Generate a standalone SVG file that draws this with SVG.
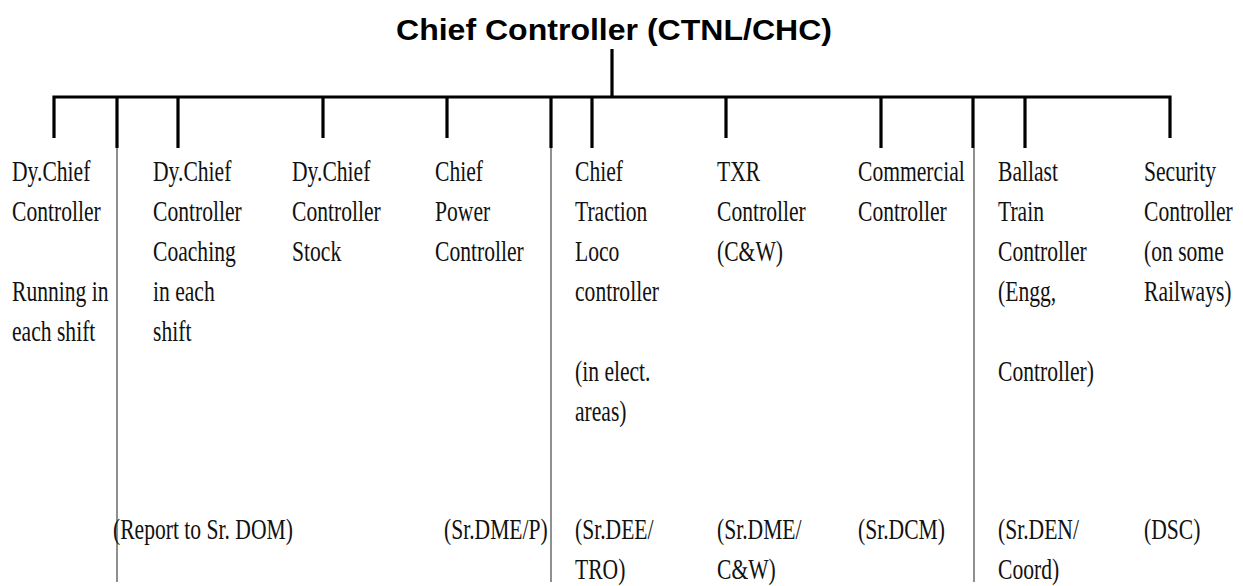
<svg xmlns="http://www.w3.org/2000/svg" width="1243" height="586" viewBox="0 0 1243 586">
<style>
.t{font-family:"Liberation Serif","Times New Roman",serif;font-size:30px;fill:#111}
.title{font-family:"Liberation Sans",Arial,sans-serif;font-weight:bold;font-size:29px;fill:#000}
.thick{stroke:#000;stroke-width:3.2;fill:none;stroke-linejoin:miter}
.thin{stroke:#555;stroke-width:1.3;fill:none}
</style>
<rect width="1243" height="586" fill="#fff"/>
<g id="connectors">
<path class="thick" d="M612 49V97 M54 138V97H1170V138"/>
<path class="thick" d="M117 97V148 M178 97V148 M323 97V138 M447 97V138 M551 97V148 M592 97V148 M726 97V138 M881 97V148 M973 97V148 M1025 97V148"/>
<path class="thin" d="M117 148V582 M551 148V582 M974 148V582"/>
</g>
<g id="chief-controller"><text class="title" x="614" y="40" text-anchor="middle" textLength="436" lengthAdjust="spacingAndGlyphs">Chief Controller (CTNL/CHC)</text></g>
<g id="dy-chief-running" transform="translate(12 181)"><text class="t" transform="scale(0.72 1)"><tspan x="0" y="0">Dy.Chief</tspan><tspan x="0" y="40">Controller</tspan><tspan x="0" y="120">Running in</tspan><tspan x="0" y="160">each shift</tspan></text></g>
<g id="dy-chief-coaching" transform="translate(153 181)"><text class="t" transform="scale(0.72 1)"><tspan x="0" y="0">Dy.Chief</tspan><tspan x="0" y="40">Controller</tspan><tspan x="0" y="80">Coaching</tspan><tspan x="0" y="120">in each</tspan><tspan x="0" y="160">shift</tspan></text></g>
<g id="dy-chief-stock" transform="translate(292 181)"><text class="t" transform="scale(0.72 1)"><tspan x="0" y="0">Dy.Chief</tspan><tspan x="0" y="40">Controller</tspan><tspan x="0" y="80">Stock</tspan></text></g>
<g id="report-sr-dom" transform="translate(113 539)"><text class="t" transform="scale(0.72 1)">(Report to Sr. DOM)</text></g>
<g id="chief-power" transform="translate(435 181)"><text class="t" transform="scale(0.72 1)"><tspan x="0" y="0">Chief</tspan><tspan x="0" y="40">Power</tspan><tspan x="0" y="80">Controller</tspan></text><text class="t" transform="translate(9 358) scale(0.72 1)">(Sr.DME/P)</text></g>
<g id="chief-traction" transform="translate(575 181)"><text class="t" transform="scale(0.72 1)"><tspan x="0" y="0">Chief</tspan><tspan x="0" y="40">Traction</tspan><tspan x="0" y="80">Loco</tspan><tspan x="0" y="120">controller</tspan><tspan x="0" y="200">(in elect.</tspan><tspan x="0" y="240">areas)</tspan><tspan x="0" y="358">(Sr.DEE/</tspan><tspan x="0" y="398">TRO)</tspan></text></g>
<g id="txr-controller" transform="translate(717 181)"><text class="t" transform="scale(0.72 1)"><tspan x="0" y="0">TXR</tspan><tspan x="0" y="40">Controller</tspan><tspan x="0" y="80">(C&amp;W)</tspan><tspan x="0" y="358">(Sr.DME/</tspan><tspan x="0" y="398">C&amp;W)</tspan></text></g>
<g id="commercial-controller" transform="translate(858 181)"><text class="t" transform="scale(0.72 1)"><tspan x="0" y="0">Commercial</tspan><tspan x="0" y="40">Controller</tspan><tspan x="0" y="358">(Sr.DCM)</tspan></text></g>
<g id="ballast-train" transform="translate(998 181)"><text class="t" transform="scale(0.72 1)"><tspan x="0" y="0">Ballast</tspan><tspan x="0" y="40">Train</tspan><tspan x="0" y="80">Controller</tspan><tspan x="0" y="120">(Engg,</tspan><tspan x="0" y="200">Controller)</tspan><tspan x="0" y="358">(Sr.DEN/</tspan><tspan x="0" y="398">Coord)</tspan></text></g>
<g id="security-controller" transform="translate(1144 181)"><text class="t" transform="scale(0.72 1)"><tspan x="0" y="0">Security</tspan><tspan x="0" y="40">Controller</tspan><tspan x="0" y="80">(on some</tspan><tspan x="0" y="120">Railways)</tspan><tspan x="0" y="358">(DSC)</tspan></text></g>
</svg>
